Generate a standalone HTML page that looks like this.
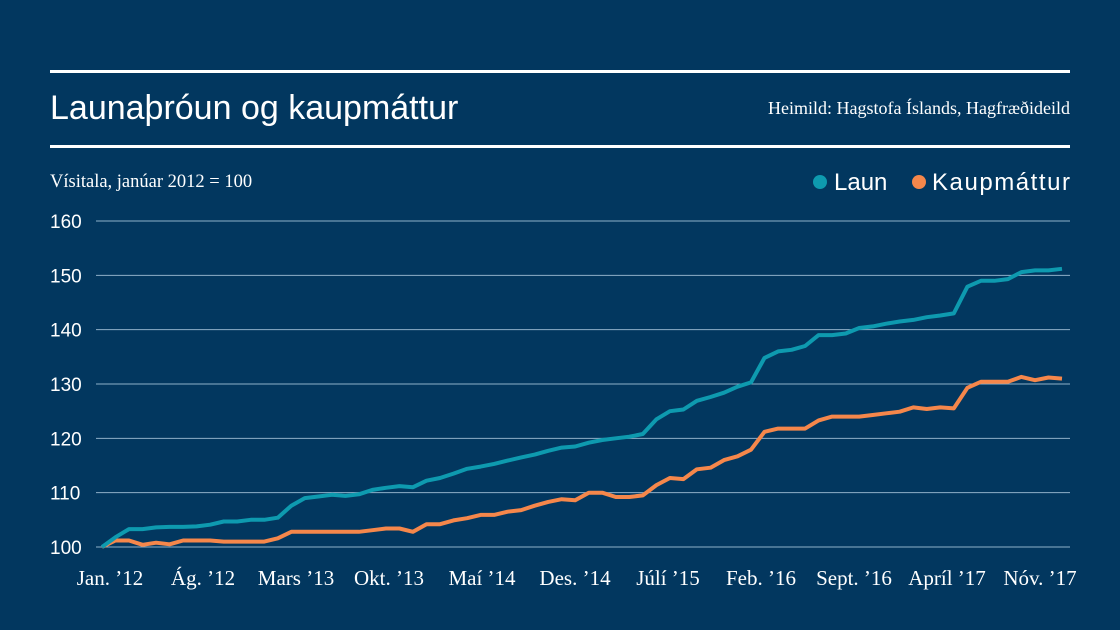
<!DOCTYPE html>
<html><head><meta charset="utf-8"><style>
html,body{margin:0;padding:0;background:#02375f;}
svg{display:block;}
</style></head><body>
<svg id="chart" width="1120" height="630" viewBox="0 0 1120 630" xmlns="http://www.w3.org/2000/svg">
<rect width="1120" height="630" fill="#02375f"/>
<rect x="50" y="70" width="1020" height="3" fill="#fff"/>
<rect x="50" y="145" width="1020" height="3" fill="#fff"/>
<text x="50" y="119" fill="#fff" font-family="Liberation Sans, sans-serif" font-size="34">Launaþróun og kaupmáttur</text>
<text x="1070" y="114" fill="#fff" text-anchor="end" font-family="Liberation Serif, serif" font-size="18">Heimild: Hagstofa Íslands, Hagfræðideild</text>
<text x="50" y="187" fill="#fff" font-family="Liberation Serif, serif" font-size="18.5">Vísitala, janúar 2012 = 100</text>
<g>
<circle cx="820" cy="182" r="7" fill="#0e9aaf"/>
<text x="834" y="190" fill="#fff" font-family="Liberation Sans, sans-serif" font-size="24">Laun</text>
<circle cx="919" cy="182" r="7" fill="#f5874b"/>
<text x="932" y="190" fill="#fff" font-family="Liberation Sans, sans-serif" font-size="24" textLength="138">Kaupmáttur</text>
</g>
<g id="grid"></g><g id="xlabels"></g><g id="lines"></g>
</svg>
<script>
const yTicks=[100,110,120,130,140,150,160];
const xLabels=["Jan. ’12","Ág. ’12","Mars ’13","Okt. ’13","Maí ’14","Des. ’14","Júlí ’15","Feb. ’16","Sept. ’16","Apríl ’17","Nóv. ’17"];
const laun=[100,101.8,103.3,103.3,103.6,103.7,103.7,103.8,104.1,104.7,104.7,105.0,
105.0,105.4,107.6,109.0,109.3,109.6,109.4,109.7,110.5,110.9,111.2,
111.0,112.2,112.7,113.5,114.4,114.8,115.3,115.9,116.5,117.0,117.7,118.3,
118.5,119.2,119.7,120.0,120.3,120.8,123.5,125.0,125.3,126.9,127.6,
128.4,129.5,130.3,134.8,136.0,136.3,137.0,139.0,139.0,139.3,140.3,140.6,
141.1,141.5,141.8,142.3,142.6,143.0,147.9,149.0,149.0,149.3,150.6,150.9,150.9,151.2];
const kaupmattur=[100,101.2,101.2,100.4,100.8,100.5,101.2,101.2,101.2,101.0,101.0,101.0,
101.0,101.6,102.8,102.8,102.8,102.8,102.8,102.8,103.1,103.4,103.4,102.8,
104.2,104.2,104.9,105.3,105.9,105.9,106.5,106.8,107.6,108.3,108.8,108.6,
110.0,110.0,109.2,109.2,109.5,111.4,112.7,112.5,114.3,114.6,116.0,116.7,
117.9,121.2,121.8,121.8,121.8,123.3,124.0,124.0,124.0,124.3,124.6,124.9,
125.7,125.4,125.7,125.5,129.3,130.4,130.4,130.4,131.3,130.7,131.2,131.0];
const NS='http://www.w3.org/2000/svg';
const x0=102,x1=1062,yBase=547,yTop=221;
const n=Math.max(laun.length,kaupmattur.length);
function xs(i){return x0+i*(x1-x0)/(n-1);}
function ys(v){return yBase-(v-100)*(yBase-yTop)/60;}
const grid=document.getElementById('grid');
yTicks.forEach(t=>{
 const l=document.createElementNS(NS,'line');
 l.setAttribute('x1',96);l.setAttribute('x2',1070);l.setAttribute('y1',ys(t));l.setAttribute('y2',ys(t));
 l.setAttribute('stroke','#8fb0c8');l.setAttribute('stroke-width','1');
 
 
 grid.appendChild(l);
 const tx=document.createElementNS(NS,'text');
 tx.setAttribute('x',50);tx.setAttribute('y',ys(t)+7);tx.setAttribute('fill','#fff');
 tx.setAttribute('font-family','Liberation Sans, sans-serif');tx.setAttribute('font-size','19');
 tx.textContent=t;
 
 
 grid.appendChild(tx);
});
const xl=document.getElementById('xlabels');
xLabels.forEach((s,k)=>{
 const tx=document.createElementNS(NS,'text');
 tx.setAttribute('x',110+k*93);tx.setAttribute('y',585);tx.setAttribute('fill','#fff');
 tx.setAttribute('text-anchor','middle');
 tx.setAttribute('font-family','Liberation Serif, serif');tx.setAttribute('font-size','21');
 tx.textContent=s;
 
 
 xl.appendChild(tx);
});
const lines=document.getElementById('lines');
function draw(arr,color,name){
 const p=document.createElementNS(NS,'polyline');
 p.setAttribute('points',arr.map((v,i)=>xs(i).toFixed(1)+','+ys(v).toFixed(1)).join(' '));
 p.setAttribute('fill','none');p.setAttribute('stroke',color);p.setAttribute('stroke-width','4');
 p.setAttribute('stroke-linejoin','round');
 
 
 lines.appendChild(p);
}
draw(kaupmattur,'#f5874b','kaupmattur-line');
draw(laun,'#0e9aaf','laun-line');
</script>
</body></html>
